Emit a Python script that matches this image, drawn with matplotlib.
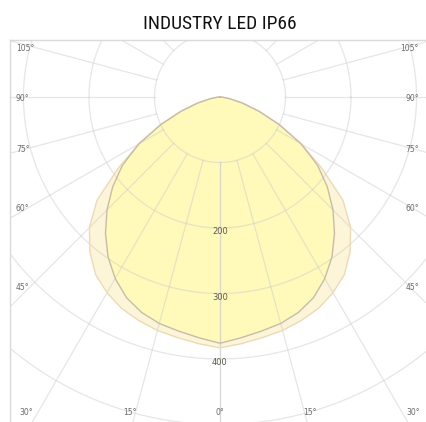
import numpy as np
import matplotlib.pyplot as plt
from matplotlib import font_manager

# luminous intensity (cd) against angle from nadir, two planes
angles = [0, 5, 10, 15, 20, 25, 30, 35, 40, 45, 50, 55, 60, 65, 70, 75, 80, 85, 90]
plane_inner = [376, 369, 363, 358, 350, 338, 320, 298, 272, 244, 214, 182, 143, 100, 63, 35, 15, 5, 0]
plane_outer = [383, 378, 373, 369, 363, 356, 345, 331, 309, 282, 245, 190, 143, 100, 63, 35, 15, 5, 0]

rings = [100, 200, 300, 400, 500]
ring_labels = [200, 300, 400]
spokes = list(range(0, 181, 15))
side_ticks = [45, 60, 75, 90, 105]
bottom_ticks = [0, 15, 30]

W, H = 427, 422
PX = 0.655            # pixels per cd
OX, OY = 220, 97      # origin in pixels
FL, FT = 10, 40       # frame left / top in pixels


def curve_xy(ang, vals):
    a = np.radians(np.asarray(ang, float))
    v = np.asarray(vals, float)
    a_full = np.concatenate([-a[::-1], a[1:]])
    v_full = np.concatenate([v[::-1], v[1:]])
    return v_full * np.sin(a_full), -v_full * np.cos(a_full)


# pick a narrow face for the title if one is around
fonts = font_manager.fontManager.ttflist
names = {f.name for f in fonts}
title_kw = dict(family="DejaVu Sans", fontsize=11.5, fontweight="medium")
if "Roboto Condensed" in names:
    title_kw = dict(family="Roboto Condensed", fontsize=14, fontweight="normal")
elif any(f.name == "DejaVu Sans" and f.stretch == "condensed" for f in fonts):
    title_kw = dict(family="DejaVu Sans", fontstretch="condensed", fontsize=13)

fig = plt.figure(figsize=(W / 100, H / 100), dpi=100)
ax = fig.add_axes([FL / W, 0, (W - FL) / W, (H - FT) / H])
xmin, xmax = (FL - OX) / PX, (W - OX) / PX
ymin, ymax = -(H - OY) / PX, (OY - FT) / PX
ax.set_xlim(xmin, xmax)
ax.set_ylim(ymin, ymax)
ax.set_xticks([])
ax.set_yticks([])
for s in ["right", "bottom"]:
    ax.spines[s].set_visible(False)
for s in ["left", "top"]:
    ax.spines[s].set_color("#dadada")
    ax.spines[s].set_linewidth(1.0)

# fills
xo, yo = curve_xy(angles, plane_outer)
xi, yi = curve_xy(angles, plane_inner)
ax.fill(xo, yo, color="#fdf5d8", zorder=1, lw=0)
ax.fill(xi, yi, color="#fffab9", zorder=1.5, lw=0)

# grid
grid_kw = dict(color="#cdcdcd", lw=0.9, alpha=0.5, zorder=2)
t = np.linspace(0, 2 * np.pi, 400)
for r in rings:
    ax.plot(r * np.cos(t), r * np.sin(t), **grid_kw)
big = 2000
for s in spokes:
    a = np.radians(s)
    for sign in (-1, 1):
        ax.plot([sign * rings[0] * np.sin(a), sign * big * np.sin(a)],
                [-rings[0] * np.cos(a), -big * np.cos(a)], **grid_kw)

# outlines
ax.plot(xo, yo, color="#eed9b6", lw=1.0, zorder=3)
ax.plot(xi, yi, color="#c8bca8", lw=1.0, zorder=3)

# angle labels
lab_kw = dict(fontsize=5.5, color="#6a6a6a", zorder=4)
side_d = 189 / PX
for d in side_ticks:
    y = side_d / np.tan(np.radians(d)) if d != 90 else 0.0
    y = -y - 2 / PX
    ax.text(xmin + 6 / PX, y, f"{d}°", ha="left", va="center", **lab_kw)
    ax.text(xmax - 8 / PX, y, f"{d}°", ha="right", va="center", **lab_kw)
ybot = ymin + 9 / PX
bot_d = 335 / PX
for d in bottom_ticks:
    x = bot_d * np.tan(np.radians(d))
    ax.text(-x, ybot, f"{d}°", ha="center", va="center", **lab_kw)
    if d:
        ax.text(x, ybot, f"{d}°", ha="center", va="center", **lab_kw)
for r in ring_labels:
    ax.text(0, -r - 4 / PX, str(r), ha="center", va="center",
            fontsize=6, color="#5a5a48", zorder=4)

fig.text(219.5 / W, 1 - 24 / H, "INDUSTRY LED IP66", ha="center", va="center",
         color="#111111", **title_kw)

fig.savefig("out.png", dpi=100)
